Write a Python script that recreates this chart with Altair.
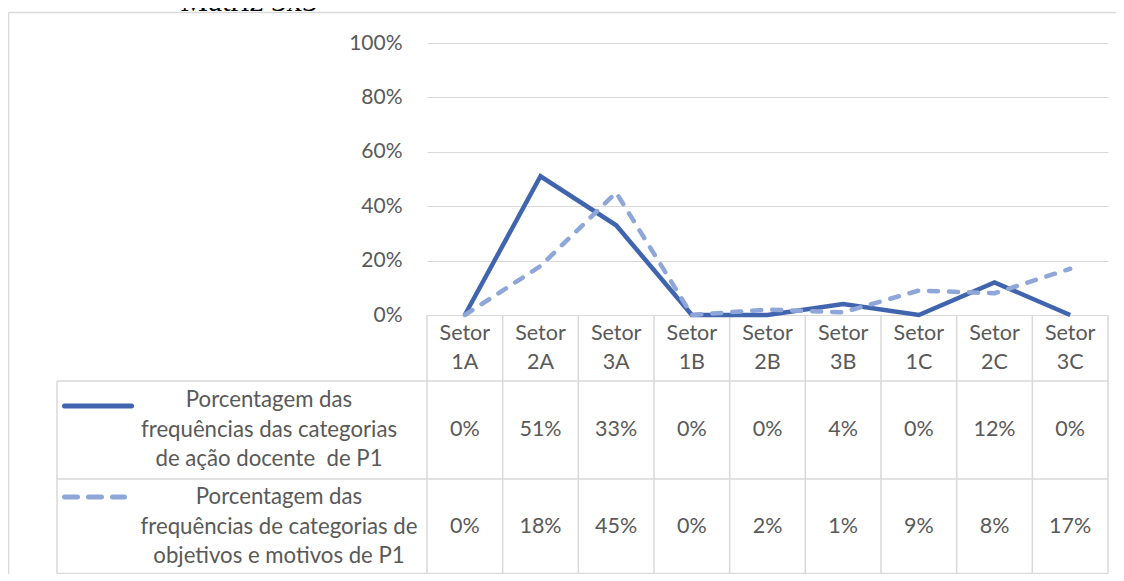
import altair as alt
import pandas as pd

title_text = "Matriz 3x3"
sectors = ["1A", "2A", "3A", "1B", "2B", "3B", "1C", "2C", "3C"]
acao = [0, 51, 33, 0, 0, 4, 0, 12, 0]
objetivos = [0, 18, 45, 0, 2, 1, 9, 8, 17]
acao_label = ["Porcentagem das", "frequências das categorias", "de ação docente\u00a0 de P1"]
objetivos_label = ["Porcentagem das", "frequências de categorias de", "objetivos e motivos de P1"]
y_ticks = [0, 20, 40, 60, 80, 100]

FONT = "Lato"
FS = 21.5
FS_LAB = 22.2
TXT = "#595959"
GRID = "#D9D9D9"
DARK = "#4065AE"
LIGHT = "#8FA6D8"

W = 681
PLOT_H = 272
H = 531

cats = ["Setor " + s for s in sectors]
df = pd.DataFrame({
    "cat": cats * 2,
    "value": acao + objetivos,
    "serie": ["acao"] * 9 + ["obj"] * 9,
})
df["label"] = df["value"].astype(str) + "%"
cat_df = pd.DataFrame({"cat": cats})

xs = alt.Scale(type="band", domain=cats, range=[0, W], paddingInner=0, paddingOuter=0)
ys = alt.Scale(domain=[0, 100], range=[PLOT_H, 0], nice=False)


def X(bp=0.5):
    return alt.X("cat:N", scale=xs, axis=None, bandPosition=bp)


base = alt.Chart(df)

line1 = base.transform_filter("datum.serie == 'acao'").mark_line(
    color=DARK, strokeWidth=4.5, strokeJoin="miter"
).encode(
    x=X(),
    y=alt.Y("value:Q", scale=ys, axis=alt.Axis(
        values=y_ticks, labelExpr="datum.value + '%'", grid=True, gridColor=GRID,
        gridWidth=1, domain=False, ticks=False, labelPadding=25, labelFont=FONT,
        labelFontSize=21, labelColor=TXT, title=None)),
)
line2 = base.transform_filter("datum.serie == 'obj'").mark_line(
    color=LIGHT, strokeWidth=4.5, strokeDash=[9, 11], strokeCap="round", strokeJoin="round"
).encode(x=X(), y=alt.Y("value:Q", scale=ys))

header = alt.Chart(cat_df).mark_text(
    font=FONT, fontSize=FS, color=TXT, lineBreak=" ", lineHeight=29, baseline="middle", align="center"
).encode(x=X(), y=alt.value(291), text="cat:N")

val1 = base.transform_filter("datum.serie == 'acao'").mark_text(
    font=FONT, fontSize=FS, color=TXT, baseline="middle", align="center"
).encode(x=X(), y=alt.value(387), text="label:N")
val2 = base.transform_filter("datum.serie == 'obj'").mark_text(
    font=FONT, fontSize=FS, color=TXT, baseline="middle", align="center"
).encode(x=X(), y=alt.value(484), text="label:N")

one = alt.Chart(pd.DataFrame({"k": [0]}))

leg_txt1 = one.mark_text(text=acao_label, font=FONT, fontSize=FS_LAB, color=TXT, lineHeight=29.5,
                         baseline="middle", align="center").encode(x=alt.value(-158), y=alt.value(357))
leg_txt2 = one.mark_text(text=objetivos_label, font=FONT, fontSize=FS_LAB, color=TXT, lineHeight=29.5,
                         baseline="middle", align="center").encode(x=alt.value(-148), y=alt.value(454))

leg_sym1 = one.mark_rule(color=DARK, strokeWidth=5, strokeCap="round").encode(
    x=alt.value(-362.5), x2=alt.value(-295.5), y=alt.value(363))
leg_sym2 = one.mark_rule(color=LIGHT, strokeWidth=5, strokeCap="round", strokeDash=[13, 11]).encode(
    x=alt.value(-362.5), x2=alt.value(-302.5), y=alt.value(454))

vlines = alt.Chart(cat_df).mark_rule(color=GRID, strokeWidth=1.5).encode(
    x=X(0), y=alt.value(PLOT_H), y2=alt.value(530.5))
vlast = alt.Chart(cat_df).transform_filter(f"datum.cat == '{cats[-1]}'").mark_rule(
    color=GRID, strokeWidth=1.5).encode(x=X(1), y=alt.value(PLOT_H), y2=alt.value(530.5))
vleft = one.mark_rule(color=GRID, strokeWidth=1.5).encode(
    x=alt.value(-370), y=alt.value(338), y2=alt.value(530.5))
h1 = one.mark_rule(color=GRID, strokeWidth=1.5).encode(x=alt.value(-370), x2=alt.value(W), y=alt.value(338))
h2 = one.mark_rule(color=GRID, strokeWidth=1.5).encode(x=alt.value(-370), x2=alt.value(W), y=alt.value(436))
h3 = one.mark_rule(color=GRID, strokeWidth=1.5).encode(x=alt.value(-370), x2=alt.value(W), y=alt.value(530.5))

frame_l = one.mark_rule(color=GRID, strokeWidth=1.5).encode(
    x=alt.value(-418.5), y=alt.value(-30.5), y2=alt.value(560))
frame_t = one.mark_rule(color=GRID, strokeWidth=1.5).encode(
    x=alt.value(-418.5), x2=alt.value(W + 60), y=alt.value(-30.5))

title = one.mark_text(text=title_text, font="Liberation Serif", fontSize=31, color="#000000",
                      baseline="alphabetic", align="center").encode(x=alt.value(-178), y=alt.value(-32))

chart = alt.layer(
    frame_l, frame_t, title,
    vlines, vlast, vleft, h1, h2, h3,
    header, val1, val2, leg_txt1, leg_txt2, leg_sym1, leg_sym2,
    line1, line2,
).properties(
    width=W, height=H,
    padding={"left": 419, "top": 35, "right": 8, "bottom": 0},
    autosize=alt.AutoSizeParams(type="none"),
).configure_view(stroke=None)

chart.save("out.html", embed_options={"renderer": "svg", "actions": False})
